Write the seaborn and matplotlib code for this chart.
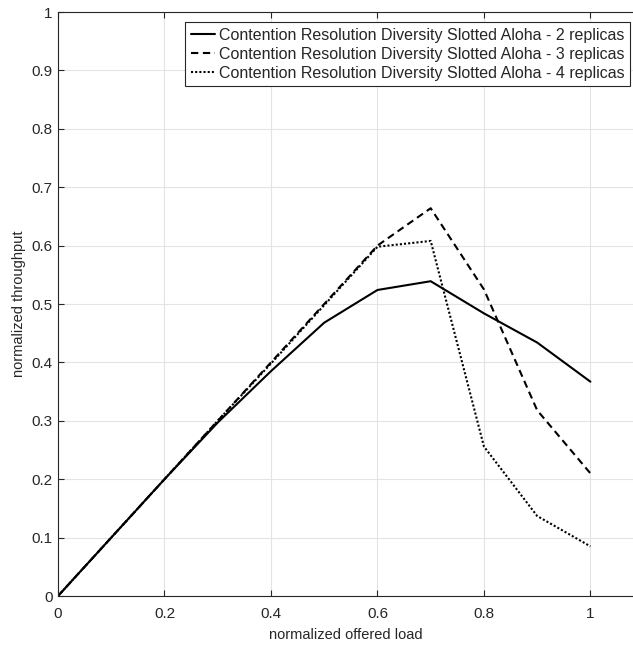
import matplotlib
matplotlib.use("Agg")
import matplotlib.pyplot as plt
import seaborn as sns
import pandas as pd

load = [0.0, 0.1, 0.2, 0.3, 0.4, 0.5, 0.6, 0.7, 0.8, 0.9, 1.0]
thr_2rep = [0.0, 0.1, 0.2, 0.297, 0.385, 0.468, 0.524, 0.539, 0.484, 0.434, 0.367]
thr_3rep = [0.0, 0.1, 0.2, 0.3, 0.4, 0.5, 0.600, 0.664, 0.525, 0.318, 0.210]
thr_4rep = [0.0, 0.1, 0.2, 0.3, 0.398, 0.498, 0.598, 0.608, 0.256, 0.137, 0.085]
labels = ["Contention Resolution Diversity Slotted Aloha - 2 replicas",
          "Contention Resolution Diversity Slotted Aloha - 3 replicas",
          "Contention Resolution Diversity Slotted Aloha - 4 replicas"]

sns.set_theme(style="whitegrid")
plt.rcParams['font.family'] = ['Liberation Sans', 'DejaVu Sans']

fig = plt.figure(figsize=(6.33, 6.48), dpi=100)
ax = fig.add_axes([58 / 633, 52 / 648, 575 / 633, 584 / 648])

styles = ['-', (0, (3.5, 2.2)), (0, (1, 1))]
for y, lab, ls in zip([thr_2rep, thr_3rep, thr_4rep], labels, styles):
    df = pd.DataFrame({"load": load, "thr": y})
    sns.lineplot(data=df, x="load", y="thr", color="black", linewidth=1.5,
                 linestyle=ls, label=lab, ax=ax)

ax.set_xlim(0, 1.08)
ax.set_ylim(0, 1)
ax.set_xticks([0, 0.2, 0.4, 0.6, 0.8, 1.0])
ax.set_xticklabels(["0", "0.2", "0.4", "0.6", "0.8", "1"])
ax.set_yticks([i / 10 for i in range(11)])
ax.set_yticklabels(["0", "0.1", "0.2", "0.3", "0.4", "0.5", "0.6", "0.7", "0.8", "0.9", "1"])
ax.grid(True, color="#e3e3e3", linewidth=0.8)
ax.set_facecolor("white")
for s in ["left", "bottom", "top"]:
    ax.spines[s].set_visible(True)
    ax.spines[s].set_color("#262626")
    ax.spines[s].set_linewidth(0.8)
ax.spines["right"].set_visible(False)
ax.tick_params(axis="both", direction="in", length=4, width=0.8, color="#262626",
               labelsize=11, labelcolor="#262626", top=True, bottom=True, left=True)
ax.tick_params(axis="x", pad=8)
ax.tick_params(axis="y", pad=4)
ax.set_xlabel("normalized offered load", fontsize=10.5, color="#262626", labelpad=5)
ax.set_ylabel("normalized throughput", fontsize=10.5, color="#262626", labelpad=4)

leg = ax.legend(loc="upper right", bbox_to_anchor=(630 / 633, 1 - 22 / 648),
                bbox_transform=fig.transFigure, borderaxespad=0, fontsize=11.5,
                frameon=True, fancybox=False, framealpha=1, edgecolor="#262626",
                handlelength=1.5, handletextpad=0.25, labelspacing=0.25, borderpad=0.35)
leg.get_frame().set_linewidth(0.8)

fig.savefig("out.png", dpi=100)
